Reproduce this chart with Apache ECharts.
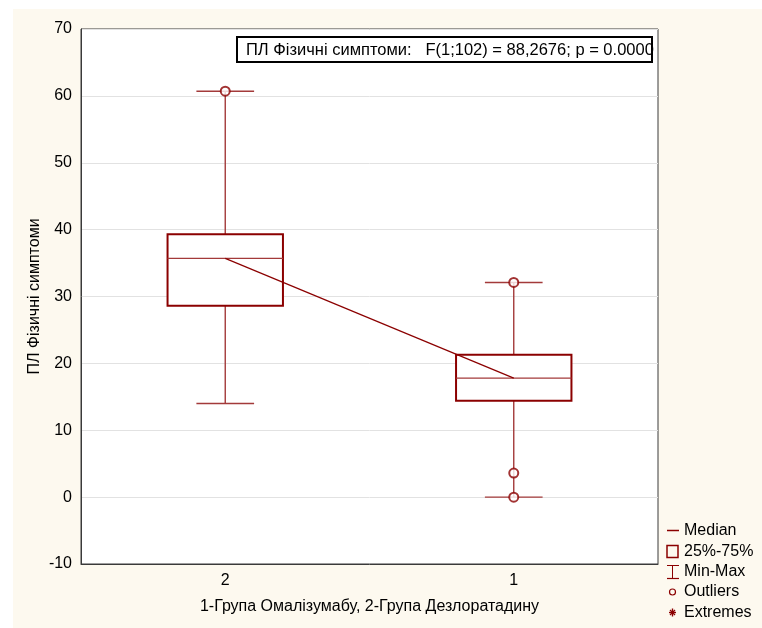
<!DOCTYPE html>
<html>
<head>
<meta charset="utf-8">
<script src="https://cdn.jsdelivr.net/npm/echarts@6/dist/echarts.min.js"></script>
<style>
  html, body { margin: 0; padding: 0; background: #ffffff; }
  #bg { position: absolute; left: 13px; top: 9px; right: 0; bottom: 0; background: #fdf9ef; }
  #chart { position: absolute; left: 0; top: 0; width: 762px; height: 628px; }
</style>
</head>
<body>
<div id="bg"></div>
<div id="chart"></div>
<script>
// Groups on the x axis (2 = Desloratadine, 1 = Omalizumab)
const categories = ['2', '1'];
// Box-plot statistics per group
const minVals = [14.0, 0.0];
const q1Vals = [28.6, 14.4];
const medianVals = [35.7, 17.8];
const q3Vals = [39.3, 21.3];
const maxVals = [60.7, 32.1];
// Outlier points: [group index, value]
const outlierPoints = [[0, 60.7], [1, 32.1], [1, 3.6], [1, 0.0]];
// Y axis ticks
const yTicks = { min: -10, max: 70, step: 10 };

const yAxisTitle = 'ПЛ Фізичні симптоми';
const xAxisTitle = '1-Група Омалізумабу, 2-Група Дезлоратадину';
const statText = 'ПЛ Фізичні симптоми:   F(1;102) = 88,2676; p = 0.0000';
const legendLabels = ['Median', '25%-75%', 'Min-Max', 'Outliers', 'Extremes'];

const RED = '#8b0000';
const WHISKER = '#a33a3a';
const FONT = "'Liberation Sans', Arial, sans-serif";

const boxData = categories.map((c, i) => [i, minVals[i], q1Vals[i], medianVals[i], q3Vals[i], maxVals[i]]);

function renderBox(params, api) {
  const idx = api.value(0);
  const pMin = api.coord([idx, api.value(1)]);
  const pQ1 = api.coord([idx, api.value(2)]);
  const pMed = api.coord([idx, api.value(3)]);
  const pQ3 = api.coord([idx, api.value(4)]);
  const pMax = api.coord([idx, api.value(5)]);
  const band = api.size([1, 0])[0];
  const boxW = band * 0.4;
  const capW = band * 0.2;
  const x = pMed[0];
  const thin = { stroke: WHISKER, lineWidth: 1.4 };
  return {
    type: 'group',
    children: [
      { type: 'line', shape: { x1: x, y1: pMax[1], x2: x, y2: pMin[1] }, style: thin },
      { type: 'line', shape: { x1: x - capW / 2, y1: pMax[1], x2: x + capW / 2, y2: pMax[1] }, style: thin },
      { type: 'line', shape: { x1: x - capW / 2, y1: pMin[1], x2: x + capW / 2, y2: pMin[1] }, style: thin },
      { type: 'rect', shape: { x: x - boxW / 2, y: pQ3[1], width: boxW, height: pQ1[1] - pQ3[1] },
        style: { fill: '#ffffff', stroke: RED, lineWidth: 2 } },
      { type: 'line', shape: { x1: x - boxW / 2, y1: pMed[1], x2: x + boxW / 2, y2: pMed[1] }, style: thin }
    ]
  };
}

// Legend glyphs drawn next to their labels
const lx = 667, lRows = [530.5, 551.5, 572, 592, 612.5];
const legendGraphics = [
  { type: 'line', shape: { x1: lx, y1: lRows[0], x2: lx + 12, y2: lRows[0] }, style: { stroke: RED, lineWidth: 1.5 } },
  { type: 'rect', shape: { x: lx, y: lRows[1] - 6, width: 11, height: 12 }, style: { fill: 'none', stroke: RED, lineWidth: 1.5 } },
  { type: 'line', shape: { x1: lx + 5.5, y1: lRows[2] - 6.5, x2: lx + 5.5, y2: lRows[2] + 6.5 }, style: { stroke: RED, lineWidth: 1 } },
  { type: 'line', shape: { x1: lx, y1: lRows[2] - 6.5, x2: lx + 12, y2: lRows[2] - 6.5 }, style: { stroke: RED, lineWidth: 1 } },
  { type: 'line', shape: { x1: lx, y1: lRows[2] + 6.5, x2: lx + 12, y2: lRows[2] + 6.5 }, style: { stroke: RED, lineWidth: 1.2 } },
  { type: 'circle', shape: { cx: lx + 5.5, cy: lRows[3], r: 3 }, style: { fill: 'none', stroke: RED, lineWidth: 1.2 } },
  { type: 'line', shape: { x1: lx + 5.5, y1: lRows[4] - 4, x2: lx + 5.5, y2: lRows[4] + 4 }, style: { stroke: RED, lineWidth: 1.4 } },
  { type: 'line', shape: { x1: lx + 2, y1: lRows[4], x2: lx + 9, y2: lRows[4] }, style: { stroke: RED, lineWidth: 1.4 } },
  { type: 'line', shape: { x1: lx + 3, y1: lRows[4] - 2.5, x2: lx + 8, y2: lRows[4] + 2.5 }, style: { stroke: RED, lineWidth: 1.2 } },
  { type: 'line', shape: { x1: lx + 3, y1: lRows[4] + 2.5, x2: lx + 8, y2: lRows[4] - 2.5 }, style: { stroke: RED, lineWidth: 1.2 } }
].concat(legendLabels.map((t, i) => ({
  type: 'text',
  style: { x: 684, y: lRows[i], text: t, font: '16px ' + FONT, fill: '#000', verticalAlign: 'middle', textVerticalAlign: 'middle' }
})));

const chart = echarts.init(document.getElementById('chart'), null, { renderer: 'canvas' });
chart.setOption({
  backgroundColor: 'transparent',
  animation: false,
  grid: { left: 81, top: 29, width: 577, height: 535, show: true, backgroundColor: '#ffffff', borderColor: '#3a3a3a', borderWidth: 1 },
  xAxis: {
    type: 'category',
    data: categories,
    name: xAxisTitle,
    nameLocation: 'middle',
    nameGap: 35,
    nameTextStyle: { fontFamily: FONT, fontSize: 16, color: '#000' },
    axisLine: { onZero: false, lineStyle: { color: '#3a3a3a' } },
    axisTick: { inside: true, alignWithLabel: true, length: 4, lineStyle: { color: '#3a3a3a' } },
    axisLabel: { fontFamily: FONT, fontSize: 16, color: '#000', margin: 9 },
    splitLine: { show: false }
  },
  yAxis: {
    type: 'value',
    min: yTicks.min, max: yTicks.max, interval: yTicks.step,
    name: yAxisTitle,
    nameLocation: 'middle',
    nameGap: 38,
    nameMoveOverlap: false,
    nameTextStyle: { fontFamily: FONT, fontSize: 16, color: '#000' },
    axisLine: { show: true, lineStyle: { color: '#3a3a3a' } },
    axisTick: { show: false },
    axisLabel: { fontFamily: FONT, fontSize: 16, color: '#000', margin: 9 },
    splitLine: { show: true, lineStyle: { color: '#e2e2e2', width: 1 } }
  },
  graphic: [
    { type: 'rect', shape: { x: 237, y: 37, width: 415, height: 25 }, style: { fill: '#ffffff', stroke: '#000', lineWidth: 2 }, z: 10 },
    { type: 'text', z: 11, style: { x: 246, y: 50, text: statText, font: '16.5px ' + FONT, fill: '#000', verticalAlign: 'middle', textVerticalAlign: 'middle' } }
  ].concat(legendGraphics),
  series: [
    { type: 'custom', renderItem: renderBox, data: boxData, z: 2, encode: { x: 0, y: [1, 2, 3, 4, 5] } },
    { type: 'line', data: medianVals, symbol: 'none', z: 3, lineStyle: { color: RED, width: 1.2 } },
    { type: 'scatter', data: outlierPoints, symbol: 'emptyCircle', symbolSize: 9, z: 4,
      itemStyle: { color: RED, borderColor: RED, borderWidth: 1.5 } }
  ]
});
</script>
</body>
</html>
